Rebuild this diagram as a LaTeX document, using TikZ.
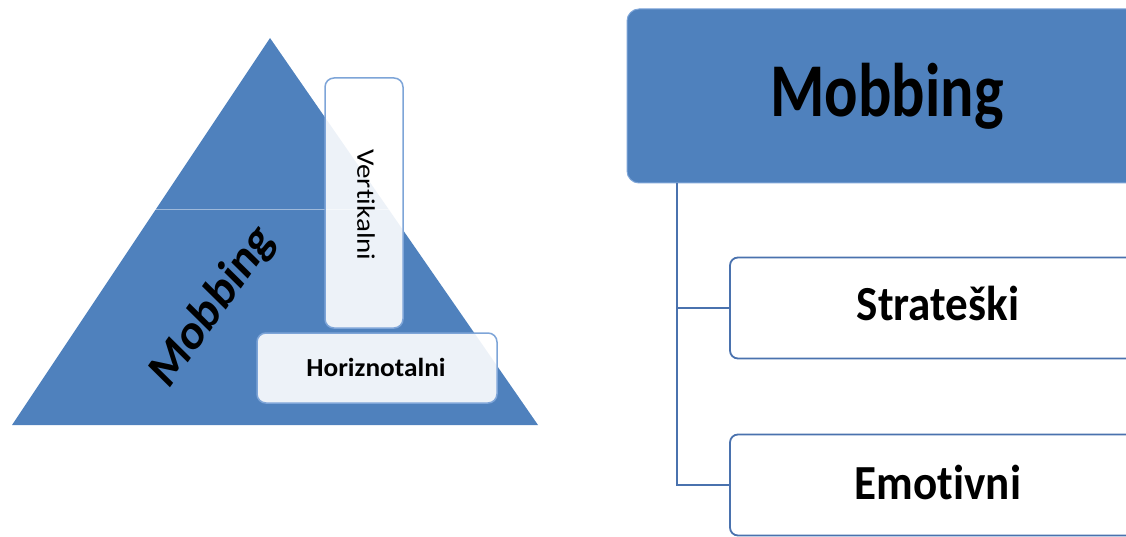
\documentclass[tikz,border=0pt]{standalone}
\usepackage{fontspec}
\setmainfont{Carlito}[Ligatures=NoCommon]
\definecolor{mobblue}{HTML}{4F81BD}
\definecolor{mobedge}{HTML}{7EA5D8}
\definecolor{mobline}{HTML}{4A72AE}
\newcommand{\fsz}[1]{\fontsize{#1}{#1}\selectfont}
\tikzset{
  lightbox/.style={draw=mobedge, line width=1.5pt, rounded corners=9pt, fill=white, fill opacity=0.9, inner sep=0pt, outer sep=0pt},
  levelbox/.style={draw=mobline, line width=1.8pt, rounded corners=8pt, fill=white, inner sep=0pt, outer sep=0pt},
  branch/.style={draw=mobline, line width=1.8pt}
}

\begin{document}
\begin{tikzpicture}[x=1pt,y=-1pt]
\useasboundingbox (0,0) rectangle (1126,537);
\clip (0,0) rectangle (1126,537);
% pyramid on the left
\fill[mobblue] (12,425) -- (270,38) -- (538,425) -- cycle;
\draw[white, opacity=0.45, line width=1pt] (155,210) -- (403,210);
\node[xscale=0.85, rotate=50, font=\bfseries\fsz{52}] (pmob) at (213,307) {Mobbing};
\node[lightbox, minimum width=78, minimum height=250] (vert) at (364,203) {};
\node[xscale=0.87, rotate=-90, font=\fsz{29}] (vtxt) at (366,205) {Vertikalni};
\node[lightbox, minimum width=240, minimum height=70] (horiz) at (377,368) {};
\node[xscale=1.05, font=\bfseries\fsz{26}] (htxt) at (376,367) {Horiznotalni};
% tree on the right
\node[draw=mobedge, fill=mobblue, line width=1pt, rounded corners=12pt, minimum width=520, minimum height=174, inner sep=0pt, outer sep=0pt] (top) at (887,96) {};
\node[xscale=0.82, font=\bfseries\fsz{76}] (ttxt) at (887,96) {Mobbing};
\node[levelbox, minimum width=420, minimum height=101] (strat) at (940,308) {};
\node[xscale=0.92, font=\bfseries\fsz{49}] (stxt) at (938,303) {Strateški};
\node[levelbox, minimum width=420, minimum height=101] (emot) at (940,485) {};
\node[xscale=0.92, font=\bfseries\fsz{49}] (etxt) at (938,482) {Emotivni};
\coordinate (trunk) at (677,183);
\draw[branch] (trunk) |- (strat.west);
\draw[branch] (trunk) |- (emot.west);
\end{tikzpicture}
\end{document}
